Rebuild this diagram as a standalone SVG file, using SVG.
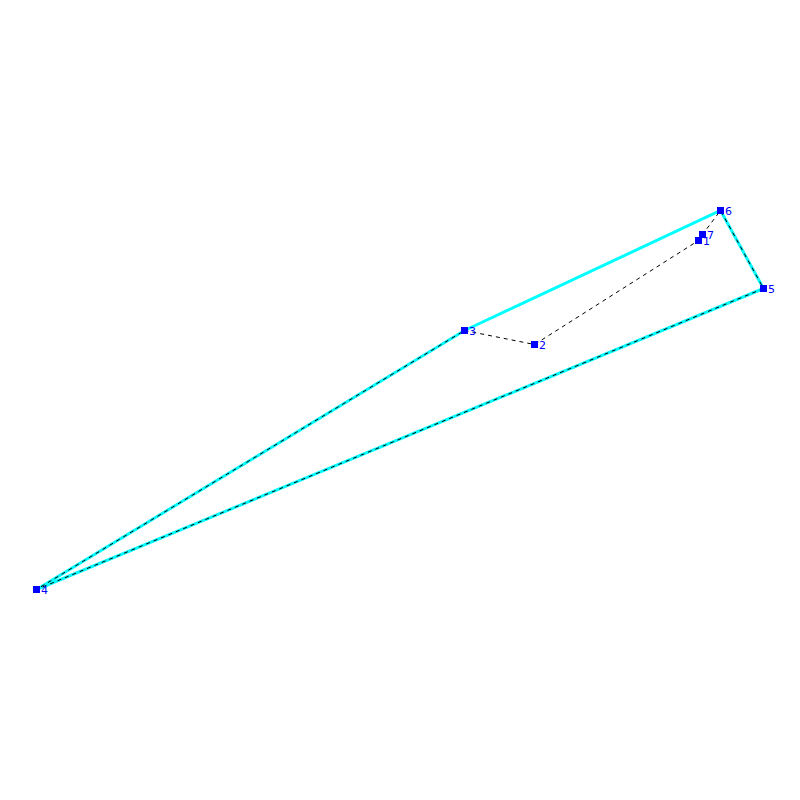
<svg xmlns="http://www.w3.org/2000/svg" width="800" height="800" viewBox="0 0 800 800">
<style>
.cy{fill:none;stroke:#00ffff;stroke-width:3}
.da{fill:none;stroke:#000;stroke-width:1;stroke-dasharray:4 4}
.nd rect{fill:#0000ff}
.nd text{fill:#0000ff;font-family:"DejaVu Sans",sans-serif;font-size:11px}
</style>
<rect width="800" height="800" fill="#fff"/>
<g id="connectors">
<polygon class="cy" points="464.5,330.5 720.5,210.5 763.5,288.5 36.5,589.5"/>
<polyline class="da" points="464.5,330.5 534.5,344.5 698.5,240.5 702.5,234.5 720.5,210.5 763.5,288.5 36.5,589.5 464.5,330.5"/>
</g>
<g id="n1" class="nd"><rect x="695" y="237" width="7" height="7"/><text x="703" y="245">1</text></g>
<g id="n2" class="nd"><rect x="531" y="341" width="7" height="7"/><text x="539" y="349">2</text></g>
<g id="n3" class="nd"><rect x="461" y="327" width="7" height="7"/><text x="469" y="335">3</text></g>
<g id="n4" class="nd"><rect x="33" y="586" width="7" height="7"/><text x="41" y="594">4</text></g>
<g id="n5" class="nd"><rect x="760" y="285" width="7" height="7"/><text x="768" y="293">5</text></g>
<g id="n6" class="nd"><rect x="717" y="207" width="7" height="7"/><text x="725" y="215">6</text></g>
<g id="n7" class="nd"><rect x="699" y="231" width="7" height="7"/><text x="707" y="239">7</text></g>
</svg>
